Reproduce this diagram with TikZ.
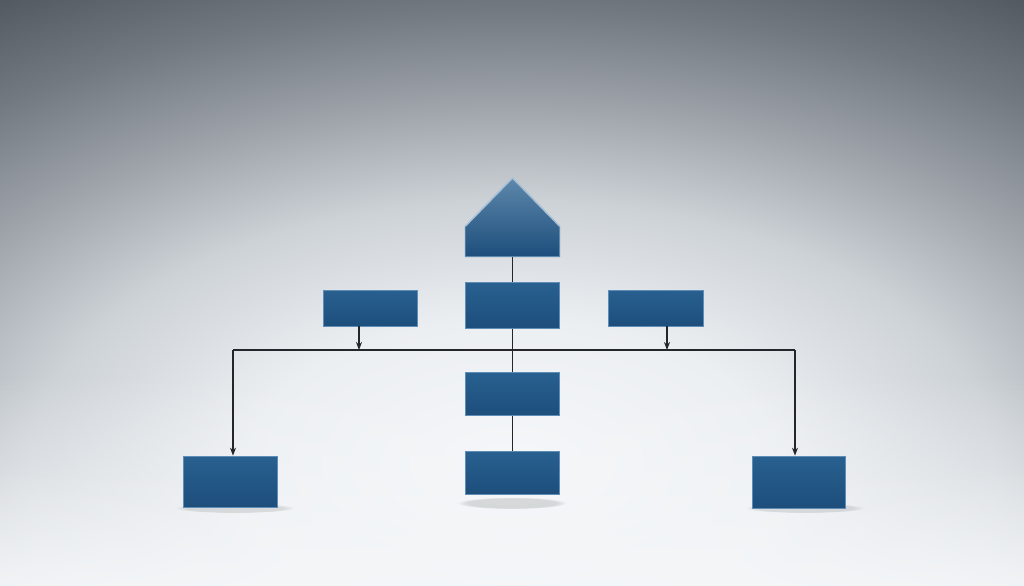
\documentclass[tikz,border=0pt]{standalone}
\usepackage{xcolor}
\usepackage{tikz}
\usetikzlibrary{arrows.meta,fadings}

\definecolor{bgA}{HTML}{F5F7F9}
\definecolor{bgB}{HTML}{ECEFF2}
\definecolor{bgC}{HTML}{CDD2D7}
\definecolor{bgD}{HTML}{9EA4AA}
\definecolor{bgE}{HTML}{737980}
\definecolor{bgF}{HTML}{50565D}
\definecolor{boxtop}{HTML}{28608F}
\definecolor{boxbot}{HTML}{1D4E7C}
\definecolor{boxedge}{HTML}{5F8DB5}
\definecolor{wire}{HTML}{23272B}

\pgfdeclareradialshading{backdrop}{\pgfpoint{0bp}{0bp}}{color(0bp)=(bgA); color(12bp)=(bgB); color(22bp)=(bgC); color(30bp)=(bgD); color(38bp)=(bgE); color(46bp)=(bgF); color(50bp)=(bgF)}

\tikzset{
	block/.style={rectangle, inner sep=0, top color=boxtop, bottom color=boxbot, draw=boxedge, line width=0.2pt},
	wire/.style={draw=wire, line width=0.5pt},
	tip/.style={-{Stealth[length=0.8mm, width=0.6mm]}}
}

\begin{document}
\begin{tikzpicture}
	\useasboundingbox (0, 0) rectangle (10.24, 5.85);
	% Backdrop and floor shadows:
	\begin{scope}
		\clip (0, 0) rectangle (10.24, 5.85);
		\fill[bgF] (-0.2, -0.2) rectangle (10.44, 6.05);
		\begin{scope}[shift={(5.12, 1.2)}, xscale=6.236, yscale=3.40]
			\pgflowlevelsynccm
			\pgfuseshading{backdrop}
		\end{scope}
		\fill[bgA, path fading=north] (-0.2, -0.3) rectangle (10.44, 2.1);
		\fill[bgA, opacity=0.6, path fading=north] (-0.2, -0.3) rectangle (10.44, 1.2);
		\fill[black, opacity=0.12, path fading=circle with fuzzy edge 20 percent] (5.12, 0.82) ellipse (0.55 and 0.06);
		\fill[black, opacity=0.10, path fading=circle with fuzzy edge 20 percent] (2.35, 0.77) ellipse (0.6 and 0.05);
		\fill[black, opacity=0.10, path fading=circle with fuzzy edge 20 percent] (8.05, 0.77) ellipse (0.6 and 0.05);
	\end{scope}
	% Paths, nodes and wires:
	\node[rectangle, inner sep=0, minimum width=0.93cm, minimum height=0.29cm] (house) at (5.125, 3.435) {};
	\coordinate (apex) at (5.125, 4.07);
	\node[block, minimum width=0.93cm, minimum height=0.45cm] (c1) at (5.125, 2.795) {};
	\node[block, minimum width=0.94cm, minimum height=0.36cm] (lbox) at (3.70, 2.77) {};
	\node[block, minimum width=0.95cm, minimum height=0.36cm] (rbox) at (6.555, 2.77) {};
	\node[block, minimum width=0.93cm, minimum height=0.42cm] (c2) at (5.125, 1.91) {};
	\node[block, minimum width=0.93cm, minimum height=0.42cm] (c3) at (5.125, 1.12) {};
	\node[block, minimum width=0.94cm, minimum height=0.51cm] (bl) at (2.30, 1.035) {};
	\node[block, minimum width=0.93cm, minimum height=0.52cm] (br) at (7.985, 1.03) {};
	\coordinate (jl) at (2.33, 2.35);
	\coordinate (jr) at (7.95, 2.35);
	\coordinate (la) at (3.59, 2.35);
	\coordinate (ra) at (6.67, 2.35);
	\draw[wire] (house.south) -- (c3.north);
	\draw[wire] (jl) -- (jr);
	\draw[wire, tip] (jl) -- (jl |- bl.north);
	\draw[wire, tip] (jr) -- (jr |- br.north);
	\draw[wire, tip] (la |- lbox.south) -- (la);
	\draw[wire, tip] (ra |- rbox.south) -- (ra);
	% blocks again on top of the trunk
	\foreach \b in {c1, c2, c3} {
		\draw[block] (\b.south west) rectangle (\b.north east);
	}
	\shade[top color=boxtop!75!white, bottom color=boxbot, draw=boxedge, line width=0.2pt] (house.south west) -- (house.north west) -- (apex) -- (house.north east) -- (house.south east) -- cycle;
	\draw[boxedge!55!white, line width=0.4pt, line join=round] (house.north west) -- (apex) -- (house.north east);
\end{tikzpicture}
\end{document}
